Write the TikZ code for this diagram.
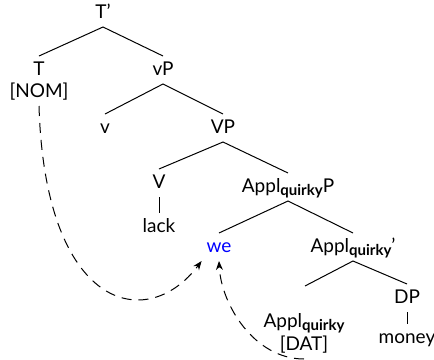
\documentclass[tikz,border=0pt]{standalone}
\usepackage{fontspec}
\setmainfont{Lato}
\usepackage{xcolor}
\usepackage{tikz}
\usetikzlibrary{arrows.meta, positioning, calc}

\newcommand{\appl}{Appl\raisebox{-1.7pt}{\fontsize{7.5}{8}\selectfont\bfseries quirky}}

\begin{document}
\begin{tikzpicture}[x=0.5pt, y=-0.5pt,
    font=\fontsize{9.5}{11}\selectfont,
    cat/.style={anchor=base, inner sep=2.3pt, text height=0.7em, text depth=0.2em},
    branch/.style={line width=0.5pt},
    move/.style={line width=0.5pt, dash pattern=on 5pt off 3.5pt, -{Stealth[length=4.5pt, width=3.5pt]}}]
    \useasboundingbox (0,0) rectangle (434,359);

    \node[cat] (tbar) at (103,18) {T'};
    \node[cat] (t) at (39,75) {T};
    \node[cat] (nom) at (39,97) {[NOM]};
    \node[cat] (vp) at (163,75) {vP};
    \node[cat] (v) at (105,133) {v};
    \node[cat] (bigvp) at (223,133) {VP};
    \node[cat] (bigv) at (159,188) {V};
    \node[cat] (lack) at (159,232) {lack};
    \node[cat] (applp) at (288,192) {\appl P};
    \node[cat, text=blue] (we) at (219,252) {we};
    \node[cat] (applbar) at (353,252) {\appl'};
    \node[cat] (dp) at (407,303) {DP};
    \node[cat] (money) at (407,343) {money};
    \node[cat] (applhd) at (304,327) {\appl};
    \node[cat] (dat) at (304,350) {[DAT]};
    \coordinate (hd) at (305,286);

    \draw[branch] (t.north) -- (tbar.south) -- (vp.north);
    \draw[branch] (v.north) -- (vp.south) -- (bigvp.north);
    \draw[branch] (bigv.north) -- (bigvp.south) -- (applp.north);
    \draw[branch] (bigv.south) -- (lack.north);
    \draw[branch] (we.north) -- (applp.south) -- (applbar.north);
    \draw[branch] (hd) -- (applbar.south) -- (dp.north);
    \draw[branch] (dp.south) -- (money.north);

    \draw[move] (nom.south) .. controls +(6,204) and +(-55,73) .. (we.south west);
    \draw[move] (dat.south) .. controls +(-50,0) and +(2,43) .. (we.south);
\end{tikzpicture}
\end{document}
